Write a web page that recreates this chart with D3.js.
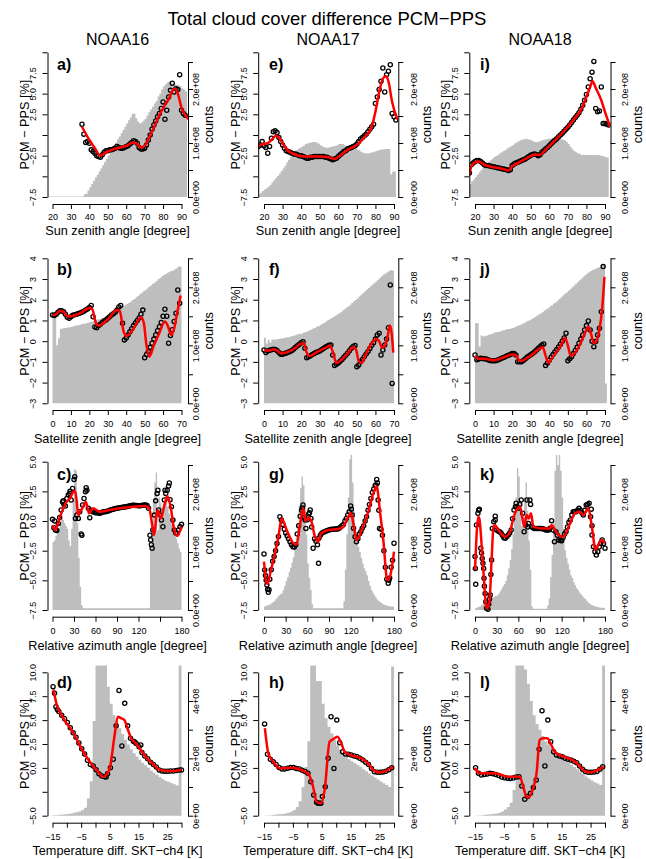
<!DOCTYPE html>
<html>
<head>
<meta charset="UTF-8">
<style>
body { margin: 0; background: #fff; }
svg { display: block; font-family: "Liberation Sans", Arial, sans-serif; }
</style>
</head>
<body>
<svg></svg>
<script src="https://d3js.org/d3.v7.min.js"></script>
<script>

// ---------- tick values / labels ----------
const xTicksSza = [20, 30, 40, 50, 60, 70, 80, 90];
const xLabsSza = ["20", "30", "40", "50", "60", "70", "80", "90"];
const xTicksSat = [0, 10, 20, 30, 40, 50, 60, 70];
const xLabsSat = ["0", "10", "20", "30", "40", "50", "60", "70"];
const xTicksRaa = [0, 30, 60, 90, 120, 150, 180];
const xLabsRaa = ["0", "30", "60", "90", "120", "", "180"];
const xTicksTd = [-15, -10, -5, 0, 5, 10, 15, 20, 25, 30];
const xLabsTd = ["−15", "", "−5", "", "5", "", "15", "", "25", ""];

const yTicksSza = [-7.5, -5, -2.5, 0, 2.5, 5, 7.5, 10];
const yLabsSza = ["−7.5", "", "−2.5", "", "2.5", "5.0", "7.5", ""];
const yTicksSat = [-3, -2, -1, 0, 1, 2, 3, 4];
const yLabsSat = ["−3", "−2", "−1", "0", "1", "2", "3", "4"];
const yTicksRaa = [-7.5, -5, -2.5, 0, 2.5, 5];
const yLabsRaa = ["−7.5", "−5.0", "−2.5", "0.0", "2.5", "5.0"];
const yTicksTd = [-5, -2.5, 0, 2.5, 5, 7.5, 10];
const yLabsTd = ["−5.0", "", "0.0", "2.5", "5.0", "7.5", "10.0"];

// counts axis, in units of 1e8
const cTicks25 = [0, 0.5, 1, 1.5, 2, 2.5];
const cLabs25 = ["0.0e+00", "", "1.0e+08", "", "2.0e+08", ""];
const cTicks5 = [0, 1, 2, 3, 4, 5];
const cLabs5 = ["0e+00", "", "2e+08", "", "4e+08", ""];

// ---------- row 1: sun zenith angle ----------
const aPts = [1.3,0.1,-0.9,-0.8,-1.0,-1.8,-2.0,-2.2,-2.5,-2.6,-2.7,-2.4,-2.1,-1.9,-1.9,-1.8,-1.8,-1.7,-1.6,-1.4,-1.5,-1.6,-1.6,-1.5,-1.4,-1.3,-1.1,-0.9,-0.7,-0.8,-1.0,-1.5,-1.7,-1.7,-1.6,-1.2,-0.6,0.0,0.7,1.2,1.7,2.2,2.6,3.2,4.0,1.9,3.0,4.6,5.4,6.25,5.2,5.6,5.5,7.3,3.0,2.6,2.4];
const aLine = [[36,1.0],[40,-0.6],[43,-1.6],[46,-2.5],[49,-2.1],[55,-1.6],[60,-1.3],[64,-0.9],[66,-1.1],[68,-1.5],[70,-1.3],[72,-0.5],[75,0.9],[78,2.4],[81,3.6],[83,4.3],[85,5.3],[86.5,5.6],[88,5.0],[90,3.3],[92,2.4],[94,1.9]];
const aHist = [0.01,0.01,0.01,0.01,0.01,0.01,0.01,0.01,0.01,0.01,0.01,0.01,0.01,0.01,0.01,0.01,0.01,0.01,0.01,0.05,0.06,0.12,0.18,0.24,0.3,0.36,0.41,0.47,0.53,0.59,0.65,0.71,0.77,0.83,0.89,0.95,1.01,1.07,1.12,1.18,1.24,1.3,1.36,1.42,1.47,1.54,1.54,1.46,1.4,1.36,1.38,1.41,1.45,1.51,1.57,1.62,1.67,1.73,1.78,1.86,1.91,1.99,2.05,2.09,2.12,2.14,2.12,2.1,2.09,2.08,2.07,2.05,2.01,1.99,1.96];

const ePts = [-1.4,-1.2,-0.8,-1.3,-1.5,-2.2,-1.4,-0.4,0.4,0.5,0.3,-0.3,-0.8,-1.2,-1.6,-1.9,-2.0,-2.1,-2.2,-2.3,-2.3,-2.4,-2.5,-2.5,-2.6,-2.7,-2.8,-2.8,-2.7,-2.7,-2.6,-2.6,-2.6,-2.6,-2.6,-2.6,-2.7,-2.7,-2.8,-2.9,-3.0,-2.9,-2.8,-2.6,-2.4,-2.2,-2.0,-1.9,-1.7,-1.6,-1.5,-1.4,-1.3,-1.1,-0.8,-0.5,-0.3,-0.1,0.1,0.4,0.7,1.0,1.3,3.8,4.6,5.5,6.5,8.1,5.2,7.3,7.7,8.5,2.6,2.2,1.8];
const eLine = [[17,-1.4],[19,-1.1],[22,-1.0],[24,-0.6],[26.5,-0.1],[28,-0.3],[30,-1.0],[33,-1.9],[36,-2.3],[42,-2.6],[50,-2.6],[55,-2.7],[58,-2.9],[61,-2.5],[65,-1.8],[70,-1.2],[74,-0.3],[78,1.0],[80,2.8],[82,5.2],[84,6.8],[85.5,7.1],[87,6.5],[89,4.0],[91.8,1.9]];
const eHist = [0.05,0.08,0.11,0.14,0.16,0.19,0.22,0.27,0.31,0.35,0.39,0.43,0.48,0.53,0.58,0.64,0.69,0.74,0.78,0.83,0.86,0.89,0.91,0.93,0.95,0.98,0.99,1.0,1.01,1.02,1.02,1.01,0.99,0.96,0.94,0.92,0.91,0.91,0.92,0.93,0.94,0.95,0.96,0.98,0.98,0.98,0.96,0.95,0.94,0.93,0.92,0.91,0.9,0.88,0.86,0.84,0.82,0.81,0.81,0.81,0.82,0.83,0.84,0.85,0.86,0.87,0.88,0.88,0.89,0.89,0.89,0.42,0.47,0.47,0.0];

const iPts = [-4.6,-3.6,-3.4,-3.2,-3.1,-3.1,-3.2,-3.4,-3.6,-3.7,-3.7,-3.75,-3.8,-3.85,-3.9,-3.95,-4.0,-4.05,-4.1,-4.15,-4.2,-4.3,-4.2,-3.7,-3.5,-3.4,-3.3,-3.2,-3.1,-3.0,-2.9,-2.75,-2.6,-2.45,-2.35,-2.3,-2.35,-2.5,-2.4,-2.1,-1.9,-1.7,-1.5,-1.3,-1.05,-0.85,-0.65,-0.45,-0.2,0.0,0.2,0.45,0.7,0.95,1.2,1.5,1.8,2.1,2.4,2.7,3.1,3.6,4.2,4.9,5.8,6.8,7.6,8.9,3.2,2.8,2.9,5.8,1.4,1.4,1.3,1.2];
const iLine = [[17,-4.8],[18,-3.8],[20,-3.3],[22,-3.2],[25,-3.6],[30,-3.9],[35,-4.1],[38,-4.3],[40,-3.8],[43,-3.4],[48,-2.8],[52,-2.4],[55,-2.4],[58,-1.8],[62,-0.9],[66,0.0],[70,1.0],[74,2.1],[77,3.0],[80,4.6],[82,5.8],[83.3,6.5],[85,5.7],[88,4.2],[90,2.8],[92.7,1.0]];
const iHist = [0.24,0.29,0.33,0.37,0.41,0.46,0.5,0.54,0.58,0.61,0.65,0.68,0.71,0.74,0.76,0.78,0.81,0.83,0.85,0.87,0.9,0.92,0.94,0.96,0.99,1.01,1.03,1.05,1.06,1.07,1.08,1.07,1.06,1.05,1.03,1.02,1.02,1.03,1.04,1.05,1.06,1.07,1.08,1.08,1.09,1.09,1.09,1.09,1.08,1.07,1.06,1.05,1.02,0.98,0.93,0.89,0.85,0.83,0.81,0.8,0.78,0.78,0.78,0.78,0.78,0.78,0.78,0.78,0.78,0.78,0.77,0.76,0.75,0.74,0.73];

// ---------- row 2: satellite zenith angle ----------
const bPts = [1.26,1.24,1.3,1.39,1.47,1.47,1.42,1.3,1.15,1.1,1.18,1.25,1.28,1.3,1.33,1.36,1.4,1.44,1.5,1.55,1.62,1.72,1.18,0.68,0.65,0.75,0.82,0.9,0.97,1.02,1.1,1.18,1.26,1.32,1.4,1.5,1.65,1.72,0.86,0.06,0.15,0.3,0.45,0.6,0.75,0.88,1.0,1.12,1.3,1.5,-0.8,-0.65,-0.5,-0.3,-0.1,0.1,0.3,0.5,0.7,0.9,1.2,1.54,1.2,-0.1,0.27,0.55,0.95,1.35,2.47,1.83];
const bLine = [[0,1.25],[2,1.3],[4,1.45],[6,1.42],[8,1.2],[10,1.2],[15,1.35],[20,1.6],[21.5,1.55],[23.5,0.9],[25,0.75],[30,1.05],[35,1.5],[36.5,1.45],[38.5,0.5],[40,0.25],[45,0.75],[48,1.15],[49.5,0.9],[51,-0.2],[52.5,-0.75],[55,-0.2],[58,0.4],[61,0.95],[62.5,0.75],[64.5,0.3],[66,0.6],[67.5,1.3],[69.5,2.2]];
const bHist = [1.52,1.52,1.0,1.12,1.28,1.29,1.3,1.3,1.31,1.31,1.32,1.33,1.34,1.34,1.35,1.36,1.37,1.37,1.38,1.39,1.4,1.41,1.42,1.43,1.44,1.45,1.46,1.47,1.49,1.5,1.52,1.53,1.55,1.57,1.59,1.61,1.63,1.65,1.67,1.69,1.71,1.73,1.75,1.78,1.8,1.83,1.85,1.88,1.9,1.93,1.95,1.98,2.01,2.03,2.06,2.08,2.11,2.14,2.16,2.19,2.21,2.23,2.25,2.27,2.28,2.29,2.31,2.33,2.36,2.36];

const fPts = [-0.43,-0.55,-0.47,-0.44,-0.41,-0.39,-0.4,-0.45,-0.55,-0.63,-0.63,-0.6,-0.57,-0.54,-0.5,-0.45,-0.38,-0.3,-0.22,-0.15,-0.08,-0.03,-0.34,-0.8,-0.75,-0.7,-0.65,-0.6,-0.55,-0.51,-0.47,-0.42,-0.36,-0.3,-0.25,-0.2,-0.18,-0.67,-1.18,-1.12,-1.05,-0.97,-0.88,-0.78,-0.68,-0.58,-0.46,-0.34,-0.26,-0.21,-1.23,-1.15,-1.0,-0.88,-0.75,-0.62,-0.5,-0.35,-0.2,-0.08,0.1,0.3,0.38,-0.67,-0.43,-0.18,0.1,0.65,2.71,-2.04];
const fLine = [[0,-0.45],[3,-0.45],[5,-0.4],[7,-0.45],[9,-0.58],[12,-0.55],[16,-0.38],[20,-0.12],[21.5,-0.1],[23,-0.55],[24.5,-0.72],[28,-0.55],[33,-0.32],[35.5,-0.22],[37,-0.5],[39,-1.05],[41,-0.95],[45,-0.6],[48,-0.3],[49.5,-0.4],[51,-0.95],[52.5,-1.05],[55,-0.6],[58,-0.1],[60.5,0.1],[62,0.0],[63.5,-0.3],[65,-0.25],[66.5,0.2],[67.8,0.75],[68.7,0.4],[69.6,-0.55]];
const fHist = [1.13,1.03,1.09,1.05,1.1,1.1,1.1,1.11,1.11,1.12,1.12,1.13,1.14,1.14,1.15,1.16,1.17,1.18,1.19,1.2,1.2,1.22,1.23,1.24,1.26,1.27,1.29,1.3,1.32,1.33,1.35,1.37,1.39,1.41,1.43,1.45,1.47,1.49,1.51,1.53,1.55,1.57,1.6,1.62,1.65,1.67,1.7,1.73,1.76,1.78,1.81,1.84,1.87,1.9,1.93,1.96,1.99,2.02,2.05,2.07,2.1,2.13,2.16,2.19,2.22,2.24,2.26,2.28,2.3,2.29];

const jPts = [-0.67,-0.9,-0.86,-0.83,-0.84,-0.85,-0.86,-0.9,-0.93,-0.94,-0.94,-0.94,-0.92,-0.88,-0.84,-0.8,-0.76,-0.72,-0.68,-0.65,-0.6,-0.6,-0.67,-0.99,-1.0,-0.99,-0.93,-0.86,-0.78,-0.72,-0.66,-0.59,-0.52,-0.44,-0.35,-0.27,-0.18,-0.14,-1.18,-1.05,-0.92,-0.78,-0.65,-0.52,-0.4,-0.28,-0.15,0.0,0.15,0.38,-0.94,-0.85,-0.75,-0.6,-0.45,-0.3,-0.1,0.1,0.3,0.54,0.75,0.97,0.54,0.0,-0.27,-0.02,0.3,0.62,1.42,3.6];
const jLine = [[0,-0.72],[2,-0.85],[5,-0.85],[10,-0.92],[15,-0.8],[20,-0.65],[22,-0.68],[24,-0.95],[26,-0.92],[30,-0.7],[35,-0.35],[36.5,-0.3],[38,-0.7],[39.5,-1.05],[42,-0.75],[46,-0.25],[48.5,0.15],[50,-0.2],[51.5,-0.7],[53,-0.65],[56,-0.25],[59,0.35],[61,0.7],[62.5,0.35],[64,-0.1],[65.5,0.0],[67,0.55],[68.5,1.6],[69.7,3.1]];
const jHist = [1.38,1.38,0.98,1.17,1.15,1.16,1.17,1.18,1.19,1.2,1.22,1.23,1.23,1.24,1.25,1.26,1.27,1.28,1.28,1.29,1.3,1.31,1.33,1.34,1.35,1.37,1.38,1.4,1.42,1.43,1.45,1.47,1.49,1.51,1.53,1.55,1.57,1.6,1.62,1.64,1.67,1.69,1.72,1.74,1.77,1.8,1.83,1.86,1.89,1.91,1.94,1.97,2.0,2.03,2.06,2.09,2.12,2.15,2.18,2.21,2.24,2.26,2.28,2.3,2.31,2.33,2.34,2.35,2.37,2.39,0.34];

// ---------- row 3: relative azimuth angle ----------
const cPts = [0.14,-0.56,-0.76,-0.8,-0.2,0.3,0.93,1.6,1.4,1.26,1.9,2.2,2.33,1.77,2.75,3.5,0.22,0.5,0.22,0.79,-1.1,1.35,1.9,2.47,2.6,1.07,0.28,0.9,0.79,0.75,0.7,0.7,0.68,0.65,0.7,0.75,0.78,0.79,0.82,0.85,0.9,0.95,1.0,1.02,1.05,1.07,1.1,1.12,1.14,1.16,1.18,1.2,1.22,1.25,1.28,1.3,1.32,1.32,1.3,1.3,1.29,1.29,1.3,1.32,1.34,1.35,1.3,1.07,-1.2,-2.0,-0.76,0.5,1.7,2.33,0.93,0.5,0.08,-0.48,1.77,2.33,2.6,2.95,1.8,1.2,0.08,-0.76,-1.0,-1.04,-0.76,-0.48,-0.28];
const cExtra = [[31,3.74],[24.5,2.5],[15,1.7],[41,-1.2],[137,-1.6],[139,-2.3],[47,2.8],[157,2.6],[3,0.0],[147,2.6],[163,3.2]];
const cLine = [[0,-0.34],[3.7,-0.76],[7,-0.3],[10.6,0.37],[15.2,1.07],[19.8,1.63],[24.4,1.91],[29,2.47],[31.3,2.56],[33.6,1.77],[35.9,0.5],[38.5,0.8],[42,1.1],[46.5,1.63],[51,0.65],[56.6,1.07],[65.8,0.79],[79.6,0.93],[93.5,1.07],[112,1.2],[130,1.26],[134.9,1.07],[139.5,-0.48],[141.8,-1.18],[146.4,0.93],[151,0.22],[155.6,1.2],[160.2,2.1],[164.8,1.2],[169.4,-0.62],[174,-1.26],[180,-0.48]];
const cHist = [1.17,1.2,1.28,1.35,1.42,1.5,1.57,1.55,1.5,1.45,1.4,1.2,1.1,1.4,1.9,2.43,2.4,1.5,0.9,0.4,0.08,
  0.03,0.03,0.03,0.03,0.03,0.03,0.03,0.03,0.03,0.03,0.03,0.03,0.03,0.03,0.03,0.03,0.03,0.03,0.03,0.03,0.03,0.03,0.03,0.03,0.03,0.03,0.03,0.03,0.03,0.03,0.03,0.03,0.03,0.03,0.03,0.03,0.03,0.03,0.03,0.03,0.03,0.03,0.03,0.03,0.03,0.03,0.03,
  1.03,1.5,1.9,2.2,2.37,1.37,1.94,1.85,1.77,1.82,1.86,1.89,1.78,1.66,1.58,1.47,1.4,1.3,1.23,1.15,1.06,1.0];

const gPts = [-2.78,-4.6,-5.4,-6.0,-4.9,-4.1,-3.4,-3.0,-2.5,-1.9,-1.3,0.37,0.08,-0.3,-0.7,-1.0,-1.25,-1.5,-1.74,-2.0,-2.16,-2.2,-2.0,-1.1,-0.4,0.4,0.9,1.35,0.3,-0.62,0.1,0.6,0.93,-0.5,-2.3,-1.5,-1.7,-2.0,-1.46,-1.2,-1.04,-0.95,-0.9,-0.85,-0.8,-0.75,-0.72,-0.7,-0.7,-0.68,-0.68,-0.67,-0.6,-0.5,-0.4,-0.3,0.0,0.22,0.5,0.79,1.26,0.5,-0.6,-1.32,-1.74,-1.5,-1.1,-0.9,-0.6,-0.4,0.0,0.37,0.9,1.4,1.9,2.4,2.7,3.0,3.5,1.77,-0.62,-0.7,-1.2,-2.5,-3.9,-4.9,-5.25,-4.8,-3.9,-3.3,-1.88];
const gExtra = [[75.5,-3.57],[5,-5.76],[3,-5.0],[57,0.08],[65,0.22],[155,3.03],[159,0.9],[173,-5.0],[1,-4.13],[7,-5.8],[53,1.1],[63,0.7],[121,1.0],[157,3.2]];
const gLine = [[0,-3.43],[3.7,-5.25],[5,-5.3],[9,-4.3],[13,-3.3],[20,-1.3],[24.5,0.22],[31.4,-0.76],[40.6,-1.88],[45,-2.0],[49.8,-0.34],[54.5,1.07],[57.7,0.0],[61.4,0.3],[65,0.08],[70.6,-1.32],[75.2,-1.74],[78.9,-1.04],[89,-0.76],[103,-0.67],[109.8,-0.48],[114.4,0.08],[120.4,0.65],[123.7,-0.2],[128.3,-1.6],[135.2,-0.76],[144.4,0.79],[151.4,2.33],[156,2.9],[160.6,0.79],[165.2,-1.6],[170.7,-4.97],[174.4,-4.69],[180,-2.58]];
const gHist = [0.06,0.07,0.08,0.09,0.1,0.12,0.14,0.16,0.19,0.22,0.25,0.27,0.29,0.35,0.42,0.5,0.57,0.65,0.73,0.82,0.91,1.05,1.25,1.5,1.8,2.1,2.3,2.15,1.8,1.3,0.8,0.55,0.35,0.1,
  0.03,0.03,0.03,0.03,0.03,0.03,0.03,0.03,0.03,0.03,0.03,0.03,0.03,0.03,0.03,0.03,0.03,0.03,0.03,0.03,0.03,
  0.15,0.7,1.3,1.94,2.6,2.8,2.2,1.7,1.37,1.2,1.09,1.0,0.9,0.8,0.72,0.67,0.6,0.5,0.42,0.35,0.3,0.26,0.22,0.18,0.16,0.14,0.12,0.1,0.09,0.08,0.07,0.07,0.06,0.06,0.06];

const kPts = [-3.0,-0.34,0.65,1.0,-2.3,-3.15,-4.0,-6.1,-7.36,-7.44,-6.6,-4.5,-0.62,-0.06,0.08,-0.76,-0.85,-0.9,-1.0,-1.2,-1.4,-1.46,-1.3,-1.18,-1.0,-0.76,0.2,0.93,1.2,1.21,1.07,1.4,1.77,0.65,-0.9,-0.34,1.77,-0.2,1.77,-0.48,-0.55,-0.62,-0.62,-0.62,-0.62,-0.62,-0.62,-0.65,-0.7,-0.75,-0.76,-0.76,-0.6,0.03,-0.76,-1.74,-0.9,-1.2,-1.6,-1.65,-1.66,-1.38,-1.1,-0.9,-0.5,-0.1,0.08,0.5,0.79,0.8,0.79,0.9,1.07,0.9,0.7,0.5,0.9,1.35,1.4,1.49,0.37,-1.18,-2.16,-2.6,-2.87,-2.58,-2.2,-1.88,-1.6,-1.9,-2.3];
const kExtra = [[1,-5.34],[0.5,-4.0],[5,0.9],[12.5,-4.83],[11,-3.57],[21,-6.24],[15,-6.8],[19,-7.0],[23,-3.29],[57,1.5],[73,-0.5],[77,1.4],[161,1.0],[162,-0.4],[9,-2.7],[13,-5.5],[28,0.4]];
const kLine = [[0,-4.13],[4.6,0.37],[6,0.2],[11.5,-4.13],[16.2,-7.36],[19.8,-6.94],[23,-3.29],[25.4,-0.62],[27.7,-0.34],[32.3,-0.76],[41.5,-1.32],[48.5,-0.9],[53,0.22],[62.3,1.21],[68.3,-0.48],[71.5,0.5],[74.5,0.22],[77.5,0.65],[80.8,-0.48],[92,-0.62],[103.8,-0.62],[106,-0.34],[110.8,-0.76],[115.4,-1.18],[122.3,-1.32],[131.5,-0.2],[138.5,0.65],[145,0.79],[150,0.5],[156.9,1.07],[161.5,-0.34],[167,-2.44],[170.7,-2.0],[175.4,-1.6],[180,-1.88]];
const kHist = [0.03,0.04,0.05,0.06,0.08,0.1,0.12,0.14,0.16,0.18,0.2,0.21,0.22,0.23,0.24,0.25,0.28,0.32,0.36,0.41,0.45,0.5,0.6,0.72,0.86,1.05,1.3,1.6,1.94,2.45,2.3,1.9,1.45,1.6,1.94,2.2,1.71,1.2,0.69,0.06,
  0.02,0.02,0.02,0.02,0.02,0.02,0.02,0.02,0.02,0.02,
  0.08,0.2,0.57,0.95,1.5,2.4,2.9,2.5,2.9,2.4,1.94,1.4,1.03,0.9,0.8,0.7,0.6,0.55,0.48,0.43,0.38,0.34,0.3,0.27,0.24,0.21,0.19,0.16,0.13,0.11,0.09,0.08,0.07,0.06,0.05,0.05,0.04,0.04,0.04,0.04];

// ---------- row 4: temperature difference SKT - ch4 ----------
const dPts = [8.5,6.4,5.9,5.5,5.15,4.75,4.2,3.68,3.2,2.6,2.0,1.45,0.8,0.35,0.2,-0.2,-0.6,-0.85,-0.92,-0.6,0.02,0.9,4.4,8.1,2.3,6.75,4.4,3.1,2.8,2.55,2.22,1.6,1.25,0.95,0.6,0.35,0.1,-0.22,-0.33,-0.35,-0.35,-0.33,-0.32,-0.28,-0.22];
const dExtra = [[30,-0.22],[-14.3,7.8],[-13.3,6.1],[3.7,-0.95],[15.8,2.4],[13.7,2.7]];
const dLine = [[-14.7,8.2],[-13.5,6.6],[-11.8,5.5],[-7.8,3.7],[-4.3,1.7],[-1.4,0.4],[0.9,-0.4],[2.6,-0.92],[3.7,-0.75],[5.1,0.13],[6.6,3.28],[7.8,5.36],[8.9,5.2],[10.1,5.0],[11.2,4.1],[12.4,3.1],[14.1,2.57],[15.8,1.87],[17.5,1.17],[19.8,0.48],[22.1,-0.15],[25,-0.33],[28,-0.33],[30,-0.15]];
const dHist = [0.02,0.02,0.03,0.04,0.05,0.06,0.08,0.1,0.12,0.15,0.2,0.28,0.6,1.2,3.3,5.8,5.8,5.8,5.8,4.5,3.9,3.5,3.25,3.05,2.85,2.65,2.48,2.32,2.18,2.06,1.95,1.85,1.76,1.67,1.58,1.5,1.42,1.35,1.28,1.22,1.18,1.14,1.1,1.05,5.8];

const hPts = [4.6,1.42,0.9,0.65,0.35,0.05,-0.12,-0.12,-0.03,0.05,0.03,-0.05,-0.12,-0.25,-0.38,-0.55,-1.44,-2.83,-3.6,-3.7,-3.0,-1.97,1.0,5.35,-0.05,5.0,2.64,1.7,1.45,1.42,1.35,1.25,1.17,1.0,0.83,0.6,0.35,-0.05,-0.4,-0.46,-0.46,-0.42,-0.35,-0.2,0.02];
const hExtra = [[4.7,-3.7],[3.7,-3.7]];
const hLine = [[-14.7,4.15],[-13.5,1.52],[-11.8,0.65],[-9.5,-0.05],[-5.5,0.02],[-2,-0.22],[0.6,-0.74],[2,-1.97],[3.2,-3.54],[4.7,-3.7],[6,-2.3],[7.7,2.75],[8.9,3.0],[10.4,3.27],[11.8,2.56],[12.9,1.7],[15,1.35],[18.7,1.0],[21,0.48],[23.3,-0.33],[25.6,-0.46],[27.9,-0.22],[29.6,0.13]];
const hHist = [0.01,0.01,0.02,0.03,0.04,0.05,0.06,0.08,0.1,0.14,0.2,0.3,0.5,1.0,1.7,2.6,5.8,5.8,4.7,4.7,3.9,3.4,3.1,2.87,2.64,2.46,2.3,2.17,2.06,1.97,1.9,1.84,1.77,1.71,1.62,1.55,1.47,1.4,1.33,1.26,1.19,1.13,1.07,1.0,5.2];

const lPts = [0.02,-0.57,-0.74,-0.7,-0.65,-0.57,-0.6,-0.68,-0.8,-0.95,-1.03,-1.08,-1.1,-1.05,-0.95,-0.92,-1.9,-3.29,-3.0,-2.66,-2.06,-1.27,1.94,5.98,0.2,5.0,2.74,1.7,1.35,1.25,1.17,1.0,0.9,0.83,0.7,0.55,0.2,-0.15,-0.38,-0.45,-0.46,-0.43,-0.38,-0.15,0.13];
const lExtra = [];
const lLine = [[-15,0],[-13.8,-0.5],[-11.6,-0.57],[-8.1,-0.57],[-3.5,-0.92],[0.5,-0.92],[1.7,-1.97],[2.8,-3.0],[3.6,-3.07],[5.1,-2.14],[6.3,-0.57],[7.4,2.92],[8.6,3.1],[10,3.1],[11.4,2.4],[12.6,1.7],[15,1.25],[18.3,0.9],[20.6,0.41],[22.9,-0.33],[25.2,-0.46],[27.5,-0.22],[29.5,0.13]];
const lHist = [0.01,0.01,0.02,0.03,0.04,0.05,0.06,0.08,0.1,0.15,0.22,0.3,0.45,0.9,5.8,5.8,5.8,5.1,4.6,4.0,3.5,3.2,3.0,2.78,2.6,2.48,2.38,2.28,2.18,2.1,2.02,1.95,1.86,1.78,1.7,1.62,1.53,1.45,1.37,1.3,1.23,1.17,1.12,1.07,5.8];

// ---------- layout ----------
const W = 646, H = 859;
const svg = d3.select("svg").attr("width", W).attr("height", H);

const colGeo = [
  {t0: 52.5, t1: 181.5, left: 47.5, right: 188, yTitle: 29, yTick: 36, rTick: 198.5, counts: 213, letter: 57, mid: 117.5},
  {t0: 264, t1: 394, left: 258.2, right: 398.3, yTitle: 240, yTick: 246.7, rTick: 417, counts: 431, letter: 269, mid: 328},
  {t0: 475, t1: 605, left: 469.3, right: 610.5, yTitle: 450, yTick: 458, rTick: 628, counts: 641.5, letter: 480, mid: 540}
];
const rowGeo = [
  {yTop: 52.3, yBot: 197, cTop: 62, axisY: 204, tickY: 220, titleY: 235, letterY: 70},
  {yTop: 258.3, yBot: 403.3, cTop: 258.3, axisY: 410, tickY: 427, titleY: 443, letterY: 275},
  {yTop: 461.7, yBot: 610, cTop: 465, axisY: 616.7, tickY: 634, titleY: 650, letterY: 480},
  {yTop: 672.3, yBot: 815.7, cTop: 672.3, axisY: 822.7, tickY: 840, titleY: 855, letterY: 688}
];
const rowCfg = [
  {xDom: [20, 90], xT: xTicksSza, xL: xLabsSza, yDom: [-7.5, 10], yT: yTicksSza, yL: yLabsSza, cDom: [0, 2.5], cT: cTicks25, cL: cLabs25, title: "Sun zenith angle [degree]"},
  {xDom: [0, 70], xT: xTicksSat, xL: xLabsSat, yDom: [-3, 4], yT: yTicksSat, yL: yLabsSat, cDom: [0, 2.5], cT: cTicks25, cL: cLabs25, title: "Satellite zenith angle [degree]"},
  {xDom: [0, 180], xT: xTicksRaa, xL: xLabsRaa, yDom: [-7.5, 5], yT: yTicksRaa, yL: yLabsRaa, cDom: [0, 2.5], cT: cTicks25, cL: cLabs25, title: "Relative azimuth angle [degree]"},
  {xDom: [-15, 30], xT: xTicksTd, xL: xLabsTd, yDom: [-5, 10], yT: yTicksTd, yL: yLabsTd, cDom: [0, 5], cT: cTicks5, cL: cLabs5, title: "Temperature diff. SKT−ch4 [K]"}
];

// panel table: [row, col, letter, points, x0, dx, extra, line, hist, hx0, hdx]
const panels = [
  [0, 0, "a)", aPts, 36, 1, [], aLine, aHist, 18, 1],
  [0, 1, "e)", ePts, 17, 1, [], eLine, eHist, 17, 1],
  [0, 2, "i)", iPts, 17, 1, [], iLine, iHist, 17, 1],
  [1, 0, "b)", bPts, 0, 1, [], bLine, bHist, 0, 1],
  [1, 1, "f)", fPts, 0, 1, [], fLine, fHist, 0, 1],
  [1, 2, "j)", jPts, 0, 1, [], jLine, jHist, 0, 1],
  [2, 0, "c)", cPts, 0, 2, cExtra, cLine, cHist, 0, 2],
  [2, 1, "g)", gPts, 0, 2, gExtra, gLine, gHist, 0, 2],
  [2, 2, "k)", kPts, 0, 2, kExtra, kLine, kHist, 0, 2],
  [3, 0, "d)", dPts, -14.8, 1, dExtra, dLine, dHist, -15, 1],
  [3, 1, "h)", hPts, -14.8, 1, hExtra, hLine, hHist, -15, 1],
  [3, 2, "l)", lPts, -14.8, 1, lExtra, lLine, lHist, -15, 1]
];

const FONT = '"Liberation Sans", Arial, sans-serif';

function styleAxis(g) {
  g.attr("font-family", FONT).attr("font-size", 9);
  g.selectAll("path.domain").attr("stroke", "#000").attr("stroke-width", 1);
  g.selectAll(".tick line").attr("stroke", "#000").attr("stroke-width", 1);
  g.selectAll(".tick text").attr("fill", "#000");
}

panels.forEach(([r, c, letter, pts, x0, dx, extra, line, hist, hx0, hdx], n) => {
  const C = colGeo[c], G = rowGeo[r], R = rowCfg[r];
  const x = d3.scaleLinear().domain(R.xDom).range([C.t0, C.t1]);
  const y = d3.scaleLinear().domain(R.yDom).range([G.yBot, G.yTop]);
  const yc = d3.scaleLinear().domain(R.cDom).range([G.yBot, G.cTop]);

  const clipId = "clip" + n;
  svg.append("clipPath").attr("id", clipId).append("rect")
    .attr("x", C.left).attr("y", G.yTop - 6.8)
    .attr("width", C.right - C.left).attr("height", G.yBot - G.yTop + 13.6);
  const pg = svg.append("g").attr("clip-path", `url(#${clipId})`);

  // histogram of counts (gray)
  const hp = hist.map((v, i) => [hx0 + i * hdx, v]);
  hp.push([hx0 + hist.length * hdx, hist[hist.length - 1]]);
  pg.append("path").datum(hp)
    .attr("d", d3.area().curve(d3.curveStepAfter)
      .x(d => x(d[0])).y0(yc(0)).y1(d => yc(d[1])))
    .attr("fill", "#bebebe");

  // difference points
  const pp = pts.map((v, i) => [x0 + i * dx, v]).concat(extra);
  pg.selectAll("circle.p").data(pp).enter().append("circle")
    .attr("cx", d => x(d[0])).attr("cy", d => y(d[1])).attr("r", 2.1)
    .attr("fill", "none").attr("stroke", "#000").attr("stroke-width", 1.3);

  // smoothed curve
  pg.append("path").datum(line)
    .attr("d", d3.line().curve(d3.curveMonotoneX).x(d => x(d[0])).y(d => y(d[1])))
    .attr("fill", "none").attr("stroke", "#ff0000").attr("stroke-width", 2.5)
    .attr("stroke-linejoin", "round");

  // axes
  const ax = svg.append("g").attr("transform", `translate(0,${G.axisY})`)
    .call(d3.axisBottom(x).tickValues(R.xT).tickFormat((d, i) => R.xL[i]).tickSize(5).tickSizeOuter(0));
  styleAxis(ax);
  ax.selectAll(".tick text").attr("y", G.tickY - G.axisY).attr("dy", null);

  const ay = svg.append("g").attr("transform", `translate(${C.left},0)`)
    .call(d3.axisLeft(y).tickValues(R.yT).tickFormat((d, i) => R.yL[i]).tickSize(5).tickSizeOuter(0));
  styleAxis(ay);
  ay.selectAll(".tick text").attr("transform", "rotate(-90)")
    .attr("x", 0).attr("y", C.yTick - C.left).attr("dy", null).attr("text-anchor", "middle");

  const ar = svg.append("g").attr("transform", `translate(${C.right},0)`)
    .call(d3.axisRight(yc).tickValues(R.cT).tickFormat((d, i) => R.cL[i]).tickSize(5).tickSizeOuter(0));
  styleAxis(ar);
  ar.selectAll(".tick text").attr("transform", "rotate(-90)")
    .attr("x", 0).attr("y", C.rTick - C.right).attr("dy", null).attr("text-anchor", "middle");

  // labels
  const midY = (G.yTop + G.yBot) / 2;
  svg.append("text").attr("transform", `translate(${C.yTitle},${midY}) rotate(-90)`)
    .attr("text-anchor", "middle").attr("font-family", FONT).attr("font-size", 12.7)
    .text("PCM − PPS [%]");
  svg.append("text").attr("transform", `translate(${C.counts},${midY}) rotate(-90)`)
    .attr("text-anchor", "middle").attr("font-family", FONT).attr("font-size", 12.7)
    .text("counts");
  svg.append("text").attr("x", C.mid).attr("y", G.titleY)
    .attr("text-anchor", "middle").attr("font-family", FONT).attr("font-size", 12.7)
    .text(R.title);
  svg.append("text").attr("x", C.letter).attr("y", G.letterY)
    .attr("font-family", FONT).attr("font-size", 16).attr("font-weight", "bold")
    .text(letter);
});

// titles
svg.append("text").attr("x", 327).attr("y", 25).attr("text-anchor", "middle")
  .attr("font-family", FONT).attr("font-size", 18.5)
  .text("Total cloud cover difference PCM−PPS");
["NOAA16", "NOAA17", "NOAA18"].forEach((t, c) => {
  svg.append("text").attr("x", colGeo[c].mid).attr("y", 45).attr("text-anchor", "middle")
    .attr("font-family", FONT).attr("font-size", 16).text(t);
});

</script>
</body>
</html>
